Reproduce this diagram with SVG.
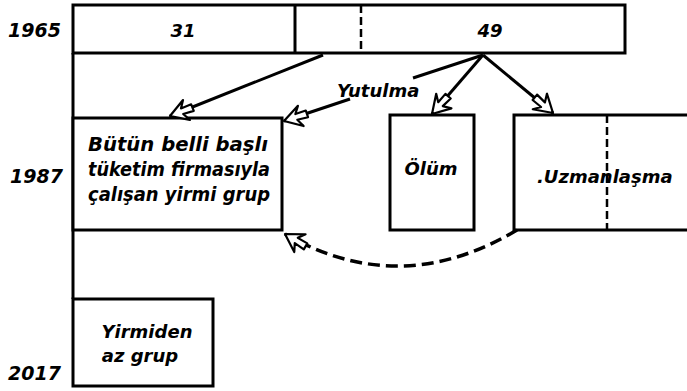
<svg xmlns="http://www.w3.org/2000/svg" width="687" height="391" viewBox="0 0 687 391">
<style>
.box{fill:#fff;stroke:#000;stroke-width:3}
.ln{fill:none;stroke:#000;stroke-width:3}
.dash{fill:none;stroke:#000;stroke-width:2.5;stroke-dasharray:8 4}
.arr{fill:none;stroke:#000;stroke-width:3;marker-end:url(#hollow)}
.curve{fill:none;stroke:#000;stroke-width:3.5;stroke-dasharray:12 6;marker-end:url(#hollow)}
text{font-family:"DejaVu Sans","Liberation Sans",sans-serif;font-weight:bold;font-style:italic;font-size:18px;fill:#000}
.m{text-anchor:middle}
.yr{font-size:19px}
.bt{font-size:19px}
</style>
<defs>
<marker id="hollow" markerUnits="userSpaceOnUse" viewBox="-26 -14 30 28" refX="0" refY="0" markerWidth="30" markerHeight="28" orient="auto">
<path d="M0,0 L-17,-11 L-13,-3 L-24,-4 L-24,3 L-13,3 L-18,10 Z" fill="#fff" stroke="#000" stroke-width="2.2" stroke-linejoin="round"/>
</marker>
</defs>
<g id="labels">
<text class="yr" x="8" y="37">1965</text>
<text class="yr" x="10" y="183">1987</text>
<text class="yr" x="8" y="380">2017</text>
</g>
<g id="timeline">
<line class="ln" x1="73" y1="53" x2="73" y2="299"/>
</g>
<g id="bar1965">
<rect class="box" x="73" y="5" width="552" height="48"/>
<line class="ln" x1="295" y1="5" x2="295" y2="53"/>
<line class="dash" x1="361" y1="5" x2="361" y2="53"/>
<text class="m" x="183" y="37">31</text>
<text class="m" x="490" y="37">49</text>
</g>
<g id="box1987">
<rect class="box" x="73" y="118" width="209" height="112"/>
<text class="bt" x="88" y="151" textLength="180" lengthAdjust="spacingAndGlyphs">Bütün belli başlı</text>
<text class="bt" x="88" y="176" textLength="182" lengthAdjust="spacingAndGlyphs">tüketim firmasıyla</text>
<text class="bt" x="88" y="201" textLength="182" lengthAdjust="spacingAndGlyphs">çalışan yirmi grup</text>
</g>
<g id="olum">
<rect class="box" x="390" y="115" width="84" height="115"/>
<text class="m" x="431" y="175">Ölüm</text>
</g>
<g id="uzmanlasma">
<path class="ln" d="M690,115 H514 V230 H690"/>
<line class="dash" x1="607" y1="115" x2="607" y2="230"/>
<text x="537" y="183">.Uzmanlaşma</text>
</g>
<g id="box2017">
<rect class="box" x="73" y="299" width="140" height="87"/>
<text class="m" x="147" y="338">Yirmiden</text>
<text class="m" x="140" y="362">az grup</text>
</g>
<g id="connectors">
<line class="arr" x1="323" y1="55" x2="170" y2="116"/>
<line class="ln" x1="483" y1="55" x2="413" y2="78"/>
<line class="arr" x1="350" y1="99" x2="284" y2="121"/>
<line class="arr" x1="483" y1="55" x2="432" y2="114"/>
<line class="arr" x1="483" y1="55" x2="553" y2="113"/>
<path class="curve" d="M517,230 Q400,300 285,234"/>
<text x="337" y="97">Yutulma</text>
</g>
</svg>
